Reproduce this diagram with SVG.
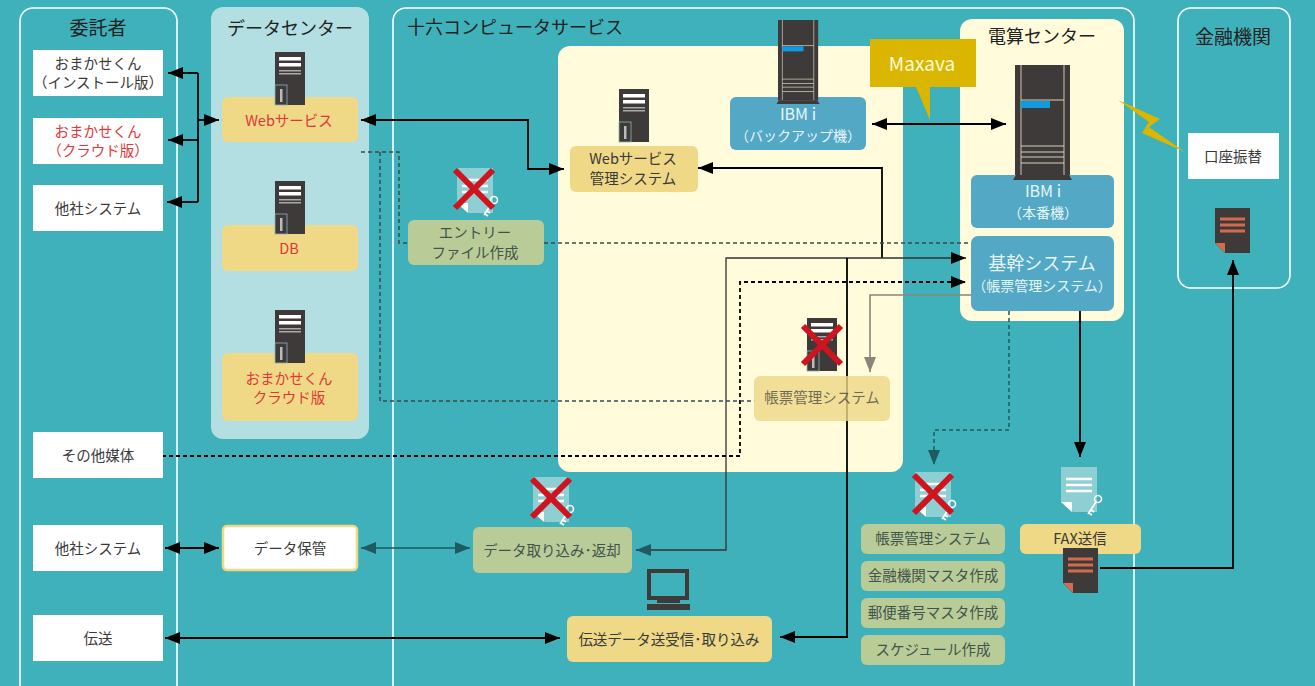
<svg xmlns="http://www.w3.org/2000/svg" width="1315" height="686" viewBox="0 0 1315 686">
<style>
text{font-family:"Noto Sans CJK JP","Noto Sans",sans-serif;text-anchor:middle;font-size:14.500px;fill:#3a3a3a}
.t{font-size:19px;fill:#222}
.t2{font-size:18px;fill:#222}
.r{fill:#e0383a}
.w{fill:#e8f6f8}
.gt{fill:#41544c}
.wb{fill:#fff}
.y{fill:#efd886}
.g{fill:#b9cc97}
.b{fill:#52a8c5}
.p{fill:none;stroke:#fff;stroke-width:1.6}
.l{fill:none;stroke:#000;stroke-width:1.8}
.d{fill:none;stroke:#3c4a4c;stroke-width:1.5;stroke-dasharray:4 3}
.x{stroke:#d0141f;stroke-width:6;fill:none}
</style>
<defs>
<marker id="a" markerUnits="userSpaceOnUse" markerWidth="16" markerHeight="14" refX="15" refY="6" orient="auto-start-reverse"><path d="M0 0L15 6L0 12z" fill="#000"/></marker>
<marker id="at" markerUnits="userSpaceOnUse" markerWidth="16" markerHeight="14" refX="15" refY="6" orient="auto-start-reverse"><path d="M0 0L15 6L0 12z" fill="#1e5a5f"/></marker>
<marker id="ag" markerUnits="userSpaceOnUse" markerWidth="16" markerHeight="14" refX="15" refY="6" orient="auto-start-reverse"><path d="M0 0L15 6L0 12z" fill="#888678"/></marker>
<g id="tower">
<rect width="30" height="53" fill="#3d3a39"/>
<rect x="4" y="5" width="22" height="3.500" fill="#fff"/>
<rect x="4" y="11" width="22" height="3.500" fill="#fff"/>
<rect x="4" y="18" width="22" height="1.500" fill="#aaa"/>
<rect x="4" y="21" width="22" height="1.500" fill="#aaa"/>
<rect x="0" y="33" width="12" height="20" fill="none" stroke="#8fb5b8" stroke-width="0.800"/>
<rect x="5" y="37" width="2.500" height="13" fill="#bbb"/>
</g>
<g id="rack">
<rect x="0" y="0" width="55" height="110" fill="#3d3a39"/>
<path d="M6 0V110M49 0V110" stroke="#b5ae9c" stroke-width="1.200" fill="none"/>
<rect x="6" y="36" width="29" height="7" fill="#0f9be0"/>
<path d="M6 35H49M6 81H49M6 87H49M6 92H49M6 98H49" stroke="#d8d2bc" stroke-width="1" fill="none"/>
<path d="M-2 115L1 110H54L57 115z" fill="#3d3a39"/>
</g>
<g id="doc">
<path d="M0 0H36V45H12L0 35z" fill="#8ecfd4"/>
<path d="M0 35L11 45V35z" fill="#fff"/>
<path d="M5 12H31M5 18H31M5 24H31" stroke="#fff" stroke-width="2.600"/>
<circle cx="37" cy="32" r="3.500" fill="none" stroke="#fff" stroke-width="1.600"/>
<path d="M35 35L27 47M30 43L33 45M28 46L31 48" stroke="#fff" stroke-width="1.600" fill="none"/>
</g>
<g id="ddoc">
<path d="M0 0H35V45H10L0 35z" fill="#3d3a39"/>
<path d="M0 35L10 45V35z" fill="#d36c4c"/>
<path d="M5 11H30M5 17H30M5 23H30" stroke="#d36c4c" stroke-width="3"/>
</g>
<path id="cross" d="M0 0L38 38M38 0L0 38"/>
</defs>
<rect width="1315" height="686" fill="#3fb1bb"/>
<g id="panels">
<rect class="p" x="20" y="8" width="157" height="700" rx="13"/>
<rect x="211" y="7" width="158" height="432" rx="12" fill="#b3dfe2"/>
<rect class="p" x="393" y="8" width="741" height="700" rx="13"/>
<rect x="558" y="46" width="345" height="426" rx="12" fill="#fffbdb"/>
<rect x="960" y="19" width="164" height="302" rx="12" fill="#fffbdb"/>
<rect class="p" x="1178" y="8" width="112" height="280" rx="13"/>
<text class="t" x="98" y="35">委託者</text>
<text class="t2" x="290" y="35">データセンター</text>
<text class="t2" x="515" y="34">十六コンピュータサービス</text>
<text class="t2" x="1042" y="43">電算センター</text>
<text class="t" x="1233" y="44">金融機関</text>
</g>
<g id="connectors">
<path class="l" d="M198 73V202"/>
<path class="l" d="M198 73H168" marker-end="url(#a)"/>
<path class="l" d="M198 140H168" marker-end="url(#a)"/>
<path class="l" d="M198 202H167" marker-end="url(#a)"/>
<path class="l" d="M198 120H219" marker-end="url(#a)"/>
<path class="l" d="M361 120H528V169H564" marker-start="url(#a)" marker-end="url(#a)"/>
<path class="l" d="M698 168H882V258" marker-start="url(#a)"/>
<path class="l" style="stroke-width:1.300;stroke:#333" d="M636 550H726V258H966" marker-start="url(#at)" marker-end="url(#a)"/>
<path class="l" d="M847 258V637H780" marker-end="url(#a)"/>
<path class="l" d="M872 124H1006" marker-start="url(#a)" marker-end="url(#a)"/>
<path class="l" style="stroke-dasharray:4 3" d="M162 456H740V282H966" marker-end="url(#a)"/>
<path class="d" d="M361 152H399V243H407M544 243H972"/>
<path class="d" d="M380 152V401H755"/>
<path class="l" style="stroke:#888678;stroke-width:1.600" d="M971 295H870V372" marker-end="url(#ag)"/>
<path class="l" d="M1080 311V457" marker-end="url(#a)"/>
<path class="d" d="M1009 311V430H934V465" style="stroke:#1e5a5f" marker-end="url(#at)"/>
<path class="l" d="M1100 568H1233V260" marker-end="url(#a)"/>
<path class="l" style="stroke:#1e5a5f;stroke-width:1.400" d="M361 548H470" marker-start="url(#at)" marker-end="url(#at)"/>
<path class="l" d="M165 548H219" marker-start="url(#a)" marker-end="url(#a)"/>
<path class="l" d="M165 638H560" marker-start="url(#a)" marker-end="url(#a)"/>
</g>
<g id="n-client1"><rect class="wb" x="33" y="50" width="130" height="46"/><text x="98" y="69">おまかせくん</text><text x="98" y="88">（インストール版）</text></g>
<g id="n-client2"><rect class="wb" x="33" y="118" width="130" height="46"/><text class="r" x="98" y="137">おまかせくん</text><text class="r" x="98" y="156">（クラウド版）</text></g>
<g id="n-client3"><rect class="wb" x="33" y="185" width="130" height="46"/><text x="98" y="214">他社システム</text></g>
<g id="n-other"><rect class="wb" x="33" y="432" width="130" height="46"/><text x="98" y="461">その他媒体</text></g>
<g id="n-client4"><rect class="wb" x="33" y="525" width="130" height="46"/><text x="98" y="554">他社システム</text></g>
<g id="n-trans"><rect class="wb" x="33" y="615" width="130" height="46"/><text x="98" y="644">伝送</text></g>
<g id="n-web"><rect class="y" x="222" y="97" width="136" height="45" rx="6"/><use href="#tower" x="275" y="52"/><text class="r" x="289" y="126">Webサービス</text></g>
<g id="n-db"><rect class="y" x="222" y="225" width="136" height="46" rx="6"/><use href="#tower" x="275" y="181"/><text class="r" x="289" y="254">DB</text></g>
<g id="n-cloud"><rect class="y" x="222" y="353" width="136" height="68" rx="6"/><use href="#tower" x="275" y="310"/><text class="r" x="289" y="384">おまかせくん</text><text class="r" x="289" y="403">クラウド版</text></g>
<g id="n-store"><rect x="223" y="526" width="134" height="44" rx="4" fill="#fff" stroke="#efd886" stroke-width="2.500"/><text x="290" y="554">データ保管</text></g>
<g id="n-webman"><rect class="y" x="570" y="146" width="128" height="46" rx="6"/><use href="#tower" x="619" y="89"/><text x="633" y="164">Webサービス</text><text x="633" y="184">管理システム</text></g>
<g id="n-entry"><rect class="g" x="408" y="220" width="136" height="45" rx="6"/><use href="#doc" x="457" y="168"/><use href="#cross" class="x" x="455" y="170"/><text class="gt" x="475" y="238">エントリー</text><text class="gt" x="475" y="258">ファイル作成</text></g>
<g id="n-backup"><rect class="b" x="730" y="97" width="136" height="53" rx="6"/><use href="#rack" transform="translate(778 20) scale(.73 .73)"/><text class="w" x="798" y="120" style="font-size:16px">IBM i</text><text class="w" x="798" y="141" style="font-size:14px">（バックアップ機）</text></g>
<g id="n-maxava"><path d="M870 39H976V87H930V120L916 87H870z" fill="#dab600"/><text x="922" y="71" style="fill:#fffbdb;font-size:19px">Maxava</text></g>
<g id="n-honban"><rect class="b" x="971" y="175" width="143" height="53" rx="6"/><use href="#rack" x="1015" y="65"/><text class="w" x="1043" y="197" style="font-size:16px">IBM i</text><text class="w" x="1043" y="218" style="font-size:14px">（本番機）</text></g>
<g id="n-kikan"><rect class="b" x="971" y="236" width="143" height="75" rx="7"/><text class="w" x="1042" y="270" style="font-size:18px">基幹システム</text><text class="w" x="1042" y="291" style="font-size:14px">（帳票管理システム）</text></g>
<g id="n-bolt"><path d="M1118 100L1160 119L1149 127L1185 152L1142 133L1149 122z" fill="#dab600"/></g>
<g id="n-account"><rect class="wb" x="1188" y="133" width="91" height="46"/><text x="1233" y="162">口座振替</text><use href="#ddoc" x="1215" y="208"/></g>
<g id="n-form"><rect class="y" x="754" y="376" width="136" height="45" rx="6" fill-opacity=".8"/><use href="#tower" x="807" y="318"/><use href="#cross" class="x" x="803" y="326"/><text x="822" y="403" style="opacity:.7">帳票管理システム</text></g>
<g id="n-data"><rect class="g" x="473" y="527" width="159" height="46" rx="6"/><use href="#doc" x="533" y="477"/><use href="#cross" class="x" x="532" y="479"/><text class="gt" x="552" y="556">データ取り込み･返却</text></g>
<g id="n-send"><rect class="y" x="567" y="616" width="205" height="46" rx="6"/>
<path d="M649 571H687V598H649z" fill="none" stroke="#3d3a39" stroke-width="4"/><rect x="657" y="599" width="23" height="4" fill="#3d3a39"/><rect x="647" y="604" width="43" height="6" fill="#3d3a39"/>
<text x="669" y="645">伝送データ送受信･取り込み</text></g>
<g id="n-green"><use href="#doc" x="915" y="472"/><use href="#cross" class="x" x="914" y="475"/>
<rect class="g" x="861" y="524" width="144" height="30" rx="6"/><text class="gt" x="933" y="544">帳票管理システム</text>
<rect class="g" x="861" y="561" width="144" height="30" rx="6"/><text class="gt" x="933" y="581">金融機関マスタ作成</text>
<rect class="g" x="861" y="598" width="144" height="30" rx="6"/><text class="gt" x="933" y="618">郵便番号マスタ作成</text>
<rect class="g" x="861" y="635" width="144" height="30" rx="6"/><text class="gt" x="933" y="655">スケジュール作成</text></g>
<g id="n-fax"><use href="#doc" x="1061" y="467"/><rect class="y" x="1020" y="524" width="121" height="30" rx="6"/><text x="1080" y="544">FAX送信</text><use href="#ddoc" x="1063" y="548"/></g>
</svg>
